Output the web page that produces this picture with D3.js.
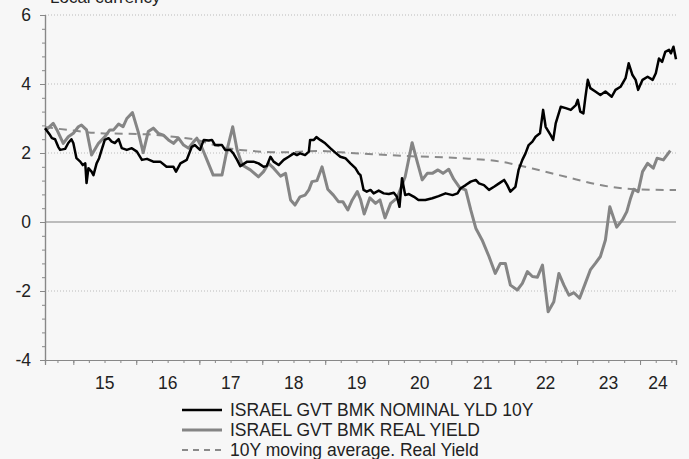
<!DOCTYPE html>
<html>
<head>
<meta charset="utf-8">
<script src="https://cdn.jsdelivr.net/npm/d3@7"></script>
<style>
  html, body { margin: 0; padding: 0; background: #f7f7f7; }
  svg { display: block; font-family: "Liberation Sans", Arial, sans-serif; }
</style>
</head>
<body>
<svg id="chart"></svg>
<script>
// decimal year, value
const nominal = [
  [2014.55, 2.72], [2014.63, 2.52], [2014.66, 2.43], [2014.71, 2.40], [2014.76, 2.18], [2014.79, 2.09],
  [2014.87, 2.12], [2014.92, 2.29], [2014.97, 2.40], [2015.00, 2.29], [2015.05, 1.85], [2015.11, 1.75],
  [2015.15, 1.65], [2015.19, 1.70], [2015.21, 1.13], [2015.24, 1.56], [2015.29, 1.46], [2015.32, 1.36],
  [2015.37, 1.70], [2015.41, 1.85], [2015.45, 2.09], [2015.50, 2.38], [2015.56, 2.43], [2015.61, 2.33],
  [2015.66, 2.29], [2015.72, 2.40], [2015.77, 2.14], [2015.85, 2.09], [2015.93, 2.14], [2016.01, 2.04],
  [2016.09, 1.80], [2016.17, 1.83], [2016.27, 1.75], [2016.38, 1.75], [2016.48, 1.60], [2016.59, 1.60],
  [2016.63, 1.46], [2016.70, 1.70], [2016.80, 1.80], [2016.88, 2.18], [2016.93, 2.23], [2017.01, 2.09],
  [2017.07, 2.38], [2017.15, 2.36], [2017.20, 2.38], [2017.25, 2.23], [2017.36, 2.23], [2017.41, 2.09],
  [2017.49, 2.09], [2017.54, 1.99], [2017.60, 1.80], [2017.65, 1.62], [2017.76, 1.75], [2017.86, 1.75],
  [2017.94, 1.70], [2018.02, 1.60], [2018.07, 1.62], [2018.13, 1.89], [2018.18, 1.75], [2018.26, 1.65],
  [2018.34, 1.80], [2018.42, 1.89], [2018.50, 1.99], [2018.55, 1.94], [2018.60, 1.99], [2018.68, 1.94],
  [2018.74, 2.04], [2018.76, 2.38], [2018.82, 2.38], [2018.86, 2.46], [2018.92, 2.38], [2019.00, 2.28],
  [2019.08, 2.14], [2019.16, 2.01], [2019.24, 1.89], [2019.32, 1.85], [2019.40, 1.70], [2019.48, 1.56],
  [2019.53, 1.41], [2019.56, 1.36], [2019.61, 0.93], [2019.66, 0.88], [2019.72, 0.93], [2019.77, 0.83],
  [2019.85, 0.91], [2019.93, 0.83], [2020.01, 0.81], [2020.09, 0.85], [2020.14, 0.73], [2020.18, 0.44],
  [2020.22, 1.27], [2020.27, 0.78], [2020.33, 0.81], [2020.41, 0.73], [2020.48, 0.64], [2020.59, 0.64],
  [2020.70, 0.69], [2020.80, 0.75], [2020.91, 0.83], [2021.02, 0.78], [2021.10, 0.83], [2021.15, 0.98],
  [2021.23, 1.07], [2021.31, 1.17], [2021.39, 1.22], [2021.44, 1.12], [2021.52, 1.07], [2021.60, 0.93],
  [2021.68, 1.02], [2021.76, 1.12], [2021.84, 1.22], [2021.89, 1.07], [2021.94, 0.88], [2022.02, 1.02],
  [2022.07, 1.51], [2022.13, 1.80], [2022.18, 1.99], [2022.23, 2.23], [2022.29, 2.33], [2022.34, 2.47],
  [2022.41, 2.57], [2022.46, 3.25], [2022.50, 2.76], [2022.58, 2.52], [2022.62, 2.38], [2022.66, 2.86],
  [2022.74, 3.34], [2022.82, 3.30], [2022.90, 3.25], [2022.98, 3.39], [2023.01, 3.54], [2023.05, 3.20],
  [2023.10, 3.15], [2023.13, 3.59], [2023.17, 4.12], [2023.21, 3.88], [2023.29, 3.78], [2023.37, 3.68],
  [2023.45, 3.78], [2023.55, 3.63], [2023.61, 3.83], [2023.69, 3.92], [2023.77, 4.17], [2023.82, 4.60],
  [2023.88, 4.26], [2023.93, 4.12], [2023.97, 3.83], [2024.04, 4.12], [2024.12, 4.21], [2024.20, 4.12],
  [2024.25, 4.31], [2024.30, 4.74], [2024.35, 4.64], [2024.40, 4.93], [2024.46, 4.99], [2024.49, 4.89],
  [2024.53, 5.08], [2024.57, 4.72]
];

const real = [
  [2014.57, 2.67], [2014.68, 2.86], [2014.74, 2.67], [2014.84, 2.28], [2014.92, 2.47], [2015.00, 2.57],
  [2015.08, 2.76], [2015.13, 2.81], [2015.21, 2.67], [2015.29, 1.94], [2015.40, 2.28], [2015.50, 2.47],
  [2015.58, 2.67], [2015.64, 2.67], [2015.72, 2.84], [2015.79, 2.76], [2015.85, 3.00], [2015.94, 3.17],
  [2016.03, 2.62], [2016.11, 2.01], [2016.19, 2.62], [2016.27, 2.72], [2016.35, 2.57], [2016.43, 2.52],
  [2016.51, 2.38], [2016.59, 2.28], [2016.67, 2.43], [2016.75, 2.23], [2016.83, 2.14], [2016.91, 2.33],
  [2016.96, 2.43], [2017.04, 2.16], [2017.09, 1.94], [2017.22, 1.36], [2017.36, 1.36], [2017.44, 2.09],
  [2017.53, 2.76], [2017.60, 2.09], [2017.68, 1.65], [2017.81, 1.51], [2017.94, 1.31], [2018.02, 1.46],
  [2018.10, 1.70], [2018.18, 1.56], [2018.29, 1.33], [2018.37, 1.41], [2018.45, 0.64], [2018.52, 0.49],
  [2018.60, 0.73], [2018.68, 0.78], [2018.74, 0.93], [2018.79, 1.17], [2018.87, 1.20], [2018.95, 1.60],
  [2019.04, 0.95], [2019.13, 0.78], [2019.21, 0.59], [2019.28, 0.59], [2019.36, 0.35], [2019.43, 0.64],
  [2019.51, 0.88], [2019.56, 0.66], [2019.62, 0.23], [2019.71, 0.70], [2019.80, 0.54], [2019.87, 0.64],
  [2019.95, 0.12], [2020.04, 0.54], [2020.14, 0.69], [2020.27, 1.31], [2020.38, 2.30], [2020.46, 1.75],
  [2020.54, 1.22], [2020.62, 1.41], [2020.70, 1.41], [2020.79, 1.51], [2020.87, 1.41], [2020.96, 1.53],
  [2021.04, 1.24], [2021.14, 0.98], [2021.23, 0.93], [2021.31, 0.35], [2021.39, -0.18], [2021.49, -0.52],
  [2021.60, -1.00], [2021.70, -1.49], [2021.78, -1.20], [2021.86, -1.20], [2021.94, -1.83], [2022.05, -1.97],
  [2022.13, -1.78], [2022.21, -1.44], [2022.29, -1.58], [2022.37, -1.60], [2022.45, -1.25], [2022.54, -2.60],
  [2022.63, -2.31], [2022.71, -1.49], [2022.79, -1.83], [2022.87, -2.12], [2022.95, -2.05], [2023.04, -2.21],
  [2023.13, -1.78], [2023.21, -1.39], [2023.29, -1.20], [2023.37, -1.00], [2023.45, -0.52], [2023.52, 0.44],
  [2023.63, -0.15], [2023.72, 0.06], [2023.79, 0.30], [2023.85, 0.69], [2023.90, 0.95], [2023.97, 0.88],
  [2024.04, 1.46], [2024.12, 1.70], [2024.21, 1.56], [2024.27, 1.85], [2024.37, 1.80], [2024.48, 2.07]
];

const movingAvg = [
  [2014.55, 2.75], [2015.00, 2.65], [2015.37, 2.58], [2016.17, 2.54], [2016.59, 2.47], [2016.96, 2.38],
  [2017.30, 2.20], [2017.65, 2.09], [2018.34, 2.02], [2018.87, 2.06], [2019.24, 2.02], [2019.69, 1.97],
  [2020.32, 1.91], [2021.15, 1.85], [2021.78, 1.75], [2022.29, 1.55], [2022.82, 1.31], [2023.37, 1.07],
  [2023.90, 0.95], [2024.40, 0.93], [2024.57, 0.93]
];

const yearLabels = [2015, 2016, 2017, 2018, 2019, 2020, 2021, 2022, 2023, 2024];
const yTicks = [-4, -2, 0, 2, 4, 6];
const legendNames = ["ISRAEL GVT BMK NOMINAL YLD 10Y", "ISRAEL GVT BMK REAL YIELD", "10Y moving average. Real Yield"];

function toDate(v) {
  const yr = Math.floor(v);
  const a = new Date(yr, 0, 1), b = new Date(yr + 1, 0, 1);
  return new Date(+a + (v - yr) * (b - a));
}

const width = 689, height = 459;
const plotLeft = 45, plotRight = 676, plotTop = 15, plotBottom = 360;

const svg = d3.select("#chart").attr("width", width).attr("height", height);

const x = d3.scaleTime().domain([toDate(2014.55), toDate(2024.57)]).range([plotLeft, plotRight]);
const y = d3.scaleLinear().domain([-4, 6]).range([plotBottom, plotTop]);

// title, cut off at the top like the source
svg.append("text")
  .attr("x", 50).attr("y", 3)
  .attr("font-size", 17).attr("fill", "#222")
  .text("Local currency");

// grid
svg.append("g").selectAll("line")
  .data(yTicks.filter(d => d !== 0 && d !== -4))
  .enter().append("line")
  .attr("x1", plotLeft).attr("x2", plotRight)
  .attr("y1", d => y(d)).attr("y2", d => y(d))
  .attr("stroke", "#bbb").attr("stroke-width", 1).attr("stroke-dasharray", "1,2");

svg.append("line")
  .attr("x1", plotLeft).attr("x2", plotRight)
  .attr("y1", y(0)).attr("y2", y(0))
  .attr("stroke", "#a8a8a8").attr("stroke-width", 1.5);

// y axis
const yMinor = svg.append("g").attr("transform", `translate(${plotLeft},0)`)
  .call(d3.axisLeft(y).tickValues(d3.range(-4, 6.001, 0.4)).tickSize(3).tickFormat(""));
const yMajor = svg.append("g").attr("transform", `translate(${plotLeft},0)`)
  .call(d3.axisLeft(y).tickValues(yTicks).tickSize(5).tickPadding(9).tickFormat(d => String(d)));

// x axis
const xMinor = svg.append("g").attr("transform", `translate(0,${plotBottom})`)
  .call(d3.axisBottom(x).ticks(d3.timeMonth.every(3)).tickSize(3).tickFormat(""));
const xMajor = svg.append("g").attr("transform", `translate(0,${plotBottom})`)
  .call(d3.axisBottom(x).ticks(d3.timeYear.every(1)).tickSize(5).tickFormat(""));

[yMinor, yMajor, xMinor, xMajor].forEach(g => {
  g.select(".domain").attr("stroke", "#888").attr("stroke-width", 1.2);
  g.selectAll(".tick line").attr("stroke", "#888");
});
yMajor.selectAll(".tick text").attr("font-size", 17.5).attr("fill", "#222")
  .attr("font-family", "Liberation Sans, Arial, sans-serif");

// year labels centred on the visible part of each year
const [d0, d1] = x.domain();
svg.append("g").selectAll("text")
  .data(yearLabels)
  .enter().append("text")
  .attr("x", d => {
    const a = Math.max(+d0, +new Date(d, 0, 1));
    const b = Math.min(+d1, +new Date(d + 1, 0, 1));
    return (x(new Date(a)) + x(new Date(b))) / 2;
  })
  .attr("y", 389)
  .attr("text-anchor", "middle")
  .attr("font-size", 17.5).attr("fill", "#222")
  .text(d => String(d).slice(2));

const line = d3.line().x(d => x(toDate(d[0]))).y(d => y(d[1]));

svg.append("path").datum(movingAvg)
  .attr("d", line.curve(d3.curveMonotoneX))
  .attr("fill", "none").attr("stroke", "#8a8a8a").attr("stroke-width", 2)
  .attr("stroke-dasharray", "8,6");

line.curve(d3.curveLinear);

svg.append("path").datum(real)
  .attr("d", line)
  .attr("fill", "none").attr("stroke", "#858585").attr("stroke-width", 3)
  .attr("stroke-linejoin", "round");

svg.append("path").datum(nominal)
  .attr("d", line)
  .attr("fill", "none").attr("stroke", "#000").attr("stroke-width", 2.5)
  .attr("stroke-linejoin", "round");

// legend
const legendStyles = [
  { stroke: "#000", width: 2.5, dash: null },
  { stroke: "#858585", width: 3, dash: null },
  { stroke: "#8a8a8a", width: 2, dash: "6,5" }
];
const legend = svg.append("g");
legendNames.forEach((name, i) => {
  const ly = 410 + i * 20;
  legend.append("line")
    .attr("x1", 182).attr("x2", 222).attr("y1", ly).attr("y2", ly)
    .attr("stroke", legendStyles[i].stroke).attr("stroke-width", legendStyles[i].width)
    .attr("stroke-dasharray", legendStyles[i].dash);
  legend.append("text")
    .attr("x", 230).attr("y", ly + 6)
    .attr("font-size", 17.5).attr("fill", "#222")
    .text(name);
});
</script>
</body>
</html>
